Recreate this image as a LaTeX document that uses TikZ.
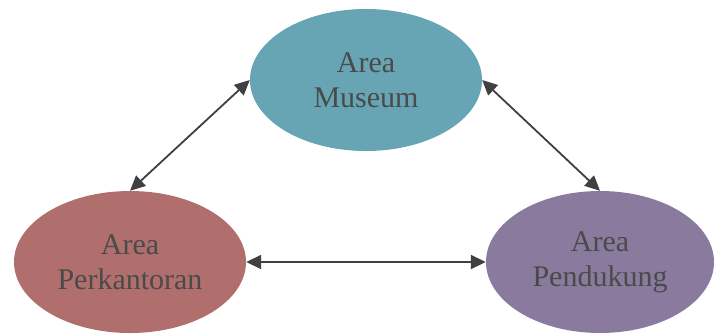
\documentclass[tikz,border=0pt]{standalone}
\usepackage{fontspec}
\setmainfont{Liberation Serif}
\usetikzlibrary{shapes.geometric,arrows.meta}
\definecolor{museumc}{HTML}{67A5B5}
\definecolor{kantorc}{HTML}{B06E6C}
\definecolor{dukungc}{HTML}{8A7A9E}
\definecolor{txtc}{HTML}{4A4A4A}
\definecolor{arrc}{HTML}{404040}
\tikzset{
  area/.style={ellipse, draw=none, inner sep=0pt, minimum width=232pt, minimum height=142pt,
    align=center, text=txtc, font=\fontsize{30}{35}\selectfont},
  link/.style={draw=arrc, line width=1.8pt, {Triangle[length=15pt,width=14pt]}-{Triangle[length=15pt,width=14pt]}}
}
\begin{document}
\begin{tikzpicture}[x=1pt,y=-1pt]
\useasboundingbox (0,0) rectangle (714,333);
\clip (0,0) rectangle (714,333);
\fill[white] (0,0) rectangle (714,333);
\node[area, fill=museumc] (mus) at (366,80) {Area\\Museum};
\node[area, fill=kantorc] (per) at (130,262) {Area\\Perkantoran};
\node[area, fill=dukungc, minimum width=228pt] (pen) at (600,262) {Area\\Pendukung};
\draw[link] (mus.west) -- (per.north);
\draw[link] (mus.east) -- (pen.north);
\draw[link] (per.east) -- (pen.west);
\end{tikzpicture}
\end{document}
